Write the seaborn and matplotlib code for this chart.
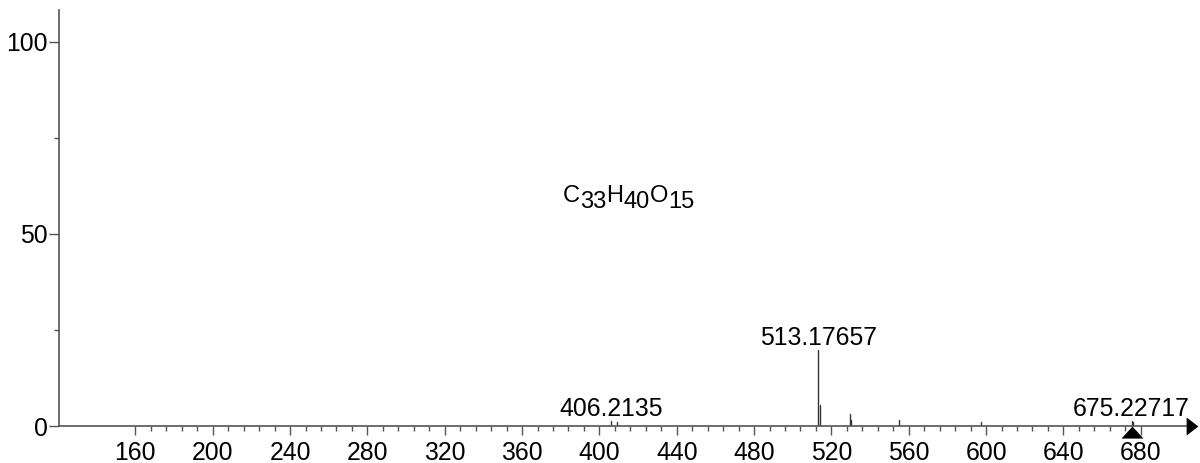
import numpy as np
import pandas as pd
import matplotlib
matplotlib.use("Agg")
import matplotlib.pyplot as plt
from matplotlib.ticker import FixedLocator
import seaborn as sns

# --- data ---
MZ = [406.21, 409.0, 513.18, 514.1, 529.4, 530.3, 555.2, 597.4, 675.23, 676.1]
INTENSITY = [1.4, 1.0, 19.8, 5.5, 3.1, 1.6, 1.6, 1.0, 1.3, 1.0]
LABEL_MZ = [406.2135, 513.17657, 675.22717]
LABEL_Y = [1.4, 19.8, 1.3]
LABEL_TEXT = ["406.2135", "513.17657", "675.22717"]
PRECURSOR_MZ = 675.22717
FORMULA = [("C", 0), ("33", -1), ("H", 0), ("40", -1), ("O", 0), ("15", -1)]
FORMULA_POS = (381.2, 58.3)
X_MAJOR = list(range(160, 681, 40))
X_MINOR = list(range(160, 681, 8))
Y_MAJOR = [0, 50, 100]
Y_MINOR = [25, 75]

AXIS_COLOR = "#555555"
PEAK_COLOR = "#333333"
FS = 17.8

sns.set_theme(style="white")
plt.rcParams['font.family'] = ['Liberation Sans', 'DejaVu Sans']

# stick spectrum: each peak is a 2-point line from 0 to its intensity
rows = []
for i, (m, h) in enumerate(zip(MZ, INTENSITY)):
    rows.append({'mz': m, 'intensity': 0.0, 'peak': i})
    rows.append({'mz': m, 'intensity': h, 'peak': i})
df = pd.DataFrame(rows)

fig = plt.figure(figsize=(12, 4.63), dpi=100)
ax = fig.add_axes([59 / 1200, 37 / 463, (1192 - 59) / 1200, 416 / 463])

sns.lineplot(data=df, x='mz', y='intensity', units='peak', estimator=None,
             sort=False, color=PEAK_COLOR, lw=1.0, ax=ax, legend=False)

ax.set_xlim(120.5, 706.5)
ax.set_ylim(0, 108.3)
ax.set_xlabel("")
ax.set_ylabel("")

for side in ['top', 'right']:
    ax.spines[side].set_visible(False)
for side in ['left', 'bottom']:
    ax.spines[side].set_color(AXIS_COLOR)
    ax.spines[side].set_linewidth(1.2)

ax.xaxis.set_major_locator(FixedLocator(X_MAJOR))
ax.xaxis.set_minor_locator(FixedLocator(X_MINOR))
ax.yaxis.set_major_locator(FixedLocator(Y_MAJOR))
ax.yaxis.set_minor_locator(FixedLocator(Y_MINOR))
ax.tick_params(axis='x', which='major', direction='out', length=6.5, width=1.0,
               color=AXIS_COLOR, labelsize=FS, labelcolor='black', pad=4.5, bottom=True)
ax.tick_params(axis='x', which='minor', direction='out', length=3.6, width=1.0,
               color=AXIS_COLOR, bottom=True)
ax.tick_params(axis='y', which='major', direction='out', length=7.2, width=1.0,
               color=AXIS_COLOR, labelsize=FS, labelcolor='black', pad=1, left=True)
ax.tick_params(axis='y', which='minor', direction='out', length=3.6, width=1.0,
               color=AXIS_COLOR, left=True)
ax.grid(False)

# arrow head at the end of the m/z axis
ax.plot([1], [0], transform=ax.get_yaxis_transform(), clip_on=False,
        marker=[(-0.65, -1), (0.65, 0), (-0.65, 1)], markersize=13,
        color='black', mew=0, zorder=5)

# precursor triangle under the axis
ax.plot([PRECURSOR_MZ], [0], clip_on=False, linestyle='none',
        marker=[(-1, -1.1), (1, -1.1), (0, 0)], markersize=17.4,
        color='black', mew=0, zorder=5)

# peak labels
for m, h, t in zip(LABEL_MZ, LABEL_Y, LABEL_TEXT):
    ax.annotate(t, xy=(m, h), xytext=(0, 3.5), textcoords='offset points',
                ha='center', va='baseline', fontsize=FS, color='black')

# molecular formula with lowered (full size) subscripts
prev = ax.text(FORMULA_POS[0], FORMULA_POS[1], FORMULA[0][0], ha='left',
               va='baseline', fontsize=17, color='black')
level = FORMULA[0][1]
for piece, lv in FORMULA[1:]:
    dy = (lv - level) * 4.2
    prev = ax.annotate(piece, xy=(1, 0), xycoords=prev, xytext=(0, dy),
                       textcoords='offset points', ha='left', va='bottom',
                       fontsize=17, color='black')
    level = lv

fig.savefig("out.png", dpi=100)
